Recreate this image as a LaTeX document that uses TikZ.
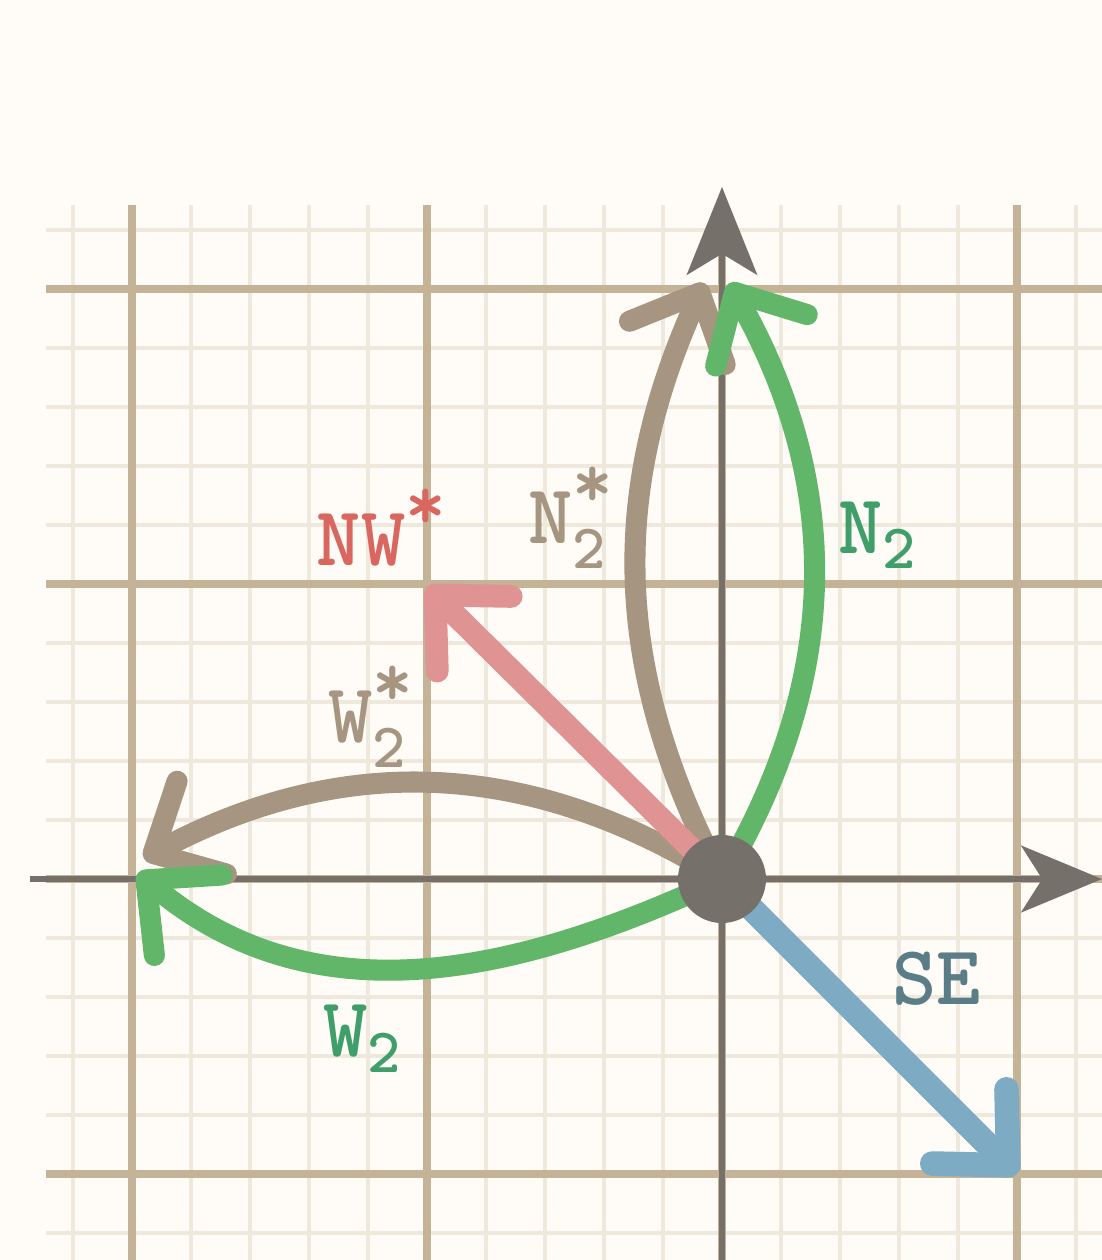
\documentclass[tikz,border=0pt]{standalone}
\usetikzlibrary{arrows.meta}
\definecolor{paper}{HTML}{FFFCF7}
\definecolor{gridminor}{HTML}{EEE8DD}
\definecolor{gridmajor}{HTML}{C4B396}
\definecolor{axisgray}{HTML}{75706A}
\definecolor{seblue}{HTML}{7DABC4}
\definecolor{setext}{HTML}{5B7D88}
\definecolor{nwpink}{HTML}{DF9393}
\definecolor{nwtext}{HTML}{D9675F}
\definecolor{dualbrown}{HTML}{A69580}
\definecolor{twogreen}{HTML}{62B669}
\definecolor{twotext}{HTML}{3F9E6A}
% small index marks next to a label
\newcommand{\idxsubsup}[2]{\rlap{\raisebox{0.42em}{\fontsize{22}{22}\selectfont #2}}\raisebox{-0.3em}{\fontsize{18}{18}\selectfont #1}}
\newcommand{\idxsub}[1]{\raisebox{-0.18em}{\fontsize{18}{18}\selectfont #1}}
\newcommand{\idxstar}{\raisebox{0.42em}{\fontsize{22}{22}\selectfont *}}
\tikzset{
  vec/.style={line width=6pt, line cap=round, -{Straight Barb[round, length=5.5mm, width=10.5mm]}},
  lbl/.style={font=\fontsize{24}{24}\selectfont\ttfamily\bfseries, inner sep=0pt, anchor=base west},
  dot/.style={circle, fill=axisgray, minimum size=0.88cm, inner sep=0pt},
}
\begin{document}
\begin{tikzpicture}[scale=2.95]
    % Paper
    \fill[paper] (-2.4475,-1.2915) rectangle (1.2881,2.9797);
    \useasboundingbox (-2.4475,-1.2915) rectangle (1.2881,2.9797);
    % Grid
    \draw[step=0.2, gridminor, line width=1.1pt] (-2.292,-1.2915) grid (1.2881,2.285);
    \draw[step=1, gridmajor, line width=2pt] (-2.292,-1.2915) grid (1.2881,2.285);
    % Axes
    \draw[axisgray, line width=1.7pt, -{Stealth[length=23pt, width=19pt, inset=6pt]}] (-2.346,0) -- (1.2881,0);
    \draw[axisgray, line width=1.7pt, -{Stealth[length=25pt, width=20pt, inset=6pt]}] (0,-1.2915) -- (0,2.346);
    % Vector ends
    \coordinate (O) at (0,0);
    \coordinate (N2) at (0.025,2.02);
    \coordinate (N2s) at (-0.06,2.02);
    \coordinate (W2) at (-1.98,0.02);
    \coordinate (W2s) at (-1.96,0.07);
    \coordinate (NW) at (-1,0.99);
    \coordinate (SE) at (1.0,-1.0);
    % Loops
    \draw[vec, dualbrown] (O) to[bend right=30] (W2s);
    \draw[vec, twogreen] (O) to[out=205, in=-40] (W2);
    \draw[vec, dualbrown] (O) to[bend left=26] (N2s);
    \draw[vec, twogreen] (O) to[bend right=30] (N2);
    % Straight ones
    \draw[vec, nwpink, line width=6.5pt] (O) -- (NW);
    \draw[vec, seblue, line width=7pt] (O) -- (SE);
    \node[dot] (origin) at (O) {};
    % Labels
    \node[lbl, text=nwtext] (nwlabel) at (-1.376,1.064) {NW\idxstar};
    \node[lbl, text=dualbrown] (n2slabel) at (-0.658,1.139) {N\idxsubsup{2}{*}};
    \node[lbl, text=twotext] (n2label) at (0.393,1.105) {N\idxsub{2}};
    \node[lbl, text=dualbrown] (w2slabel) at (-1.336,0.464) {W\idxsubsup{2}{*}};
    \node[lbl, text=twotext] (w2label) at (-1.353,-0.603) {W\idxsub{2}};
    \node[lbl, text=setext] (selabel) at (0.576,-0.427) {SE};
\end{tikzpicture}
\end{document}
